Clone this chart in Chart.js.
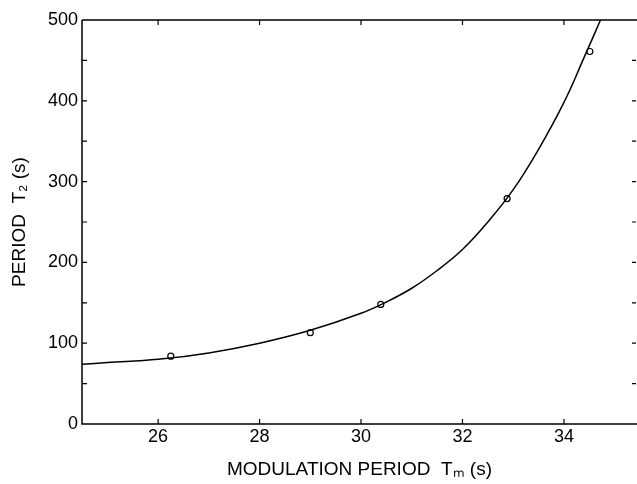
<!DOCTYPE html>
<html>
<head>
<meta charset="utf-8">
<script src="https://cdn.jsdelivr.net/npm/chart.js@4/dist/chart.umd.min.js"></script>
<style>
  html, body { margin: 0; padding: 0; background: #fff; overflow: hidden; }
  canvas { display: block; }
</style>
</head>
<body>
<canvas id="chart" width="637" height="484"></canvas>
<script>
// measured points (open circles)
const measX = [26.25, 29.0, 30.39, 32.88, 34.51];
const measY = [84, 113, 148, 279, 461];

// fitted curve
const fitX = [24.5, 25, 26, 27, 28, 29, 30, 30.5, 31, 31.5, 32, 32.5, 33, 33.5, 34, 34.4, 34.72];
const fitY = [74, 76, 80, 88, 100, 116, 137, 151, 168, 190, 216, 250, 290, 340, 398, 454, 500];

const xTicks = [26, 28, 30, 32, 34];
const yTicks = [0, 100, 200, 300, 400, 500];

const FONT = "'Liberation Sans', Arial, Helvetica, sans-serif";

// frame with inward ticks, drawn from the scales
const framePlugin = {
  id: 'frame',
  afterDraw(chart) {
    const ctx = chart.ctx;
    const a = chart.chartArea;
    const xs = chart.scales.x;
    const ys = chart.scales.y;
    ctx.save();
    ctx.strokeStyle = '#000';
    ctx.lineWidth = 1.5;
    ctx.beginPath();
    ctx.moveTo(a.left, a.top);
    ctx.lineTo(a.left, a.bottom);
    ctx.lineTo(a.right, a.bottom);
    ctx.moveTo(a.left, a.top);
    ctx.lineTo(a.right, a.top);
    ctx.stroke();

    ctx.lineWidth = 1.2;
    ctx.beginPath();
    xTicks.forEach(function (v) {
      const px = xs.getPixelForValue(v);
      ctx.moveTo(px, a.bottom);
      ctx.lineTo(px, a.bottom - 5);
      ctx.moveTo(px, a.top);
      ctx.lineTo(px, a.top + 5);
    });
    for (let v = 50; v < 500; v += 50) {
      const py = ys.getPixelForValue(v);
      ctx.moveTo(a.left, py);
      ctx.lineTo(a.left + 5, py);
      ctx.moveTo(a.right - 1, py);
      ctx.lineTo(a.right - 5, py);
    }
    ctx.stroke();
    ctx.restore();
  }
};

new Chart(document.getElementById('chart'), {
  type: 'scatter',
  data: {
    datasets: [
      {
        label: 'fit',
        data: fitX.map(function (x, i) { return { x: x, y: fitY[i] }; }),
        showLine: true,
        borderColor: '#000',
        borderWidth: 1.5,
        pointRadius: 0,
        tension: 0.4,
        clip: false
      },
      {
        label: 'measured',
        data: measX.map(function (x, i) { return { x: x, y: measY[i] }; }),
        pointStyle: 'circle',
        pointRadius: 3,
        pointBackgroundColor: '#fff',
        pointBorderColor: '#000',
        pointBorderWidth: 1.2
      }
    ]
  },
  options: {
    responsive: false,
    animation: false,
    events: [],
    layout: { autoPadding: false, padding: { top: 20, right: 0, left: 0, bottom: 0 } },
    plugins: {
      legend: { display: false },
      tooltip: { enabled: false }
    },
    scales: {
      x: {
        type: 'linear',
        min: 24.5,
        max: 35.44,
        afterBuildTicks: function (scale) {
          scale.ticks = xTicks.map(function (v) { return { value: v }; });
        },
        afterFit: function (scale) {
          scale.height = 60;
          scale.paddingLeft = 0;
          scale.paddingRight = 0;
        },
        grid: { display: false, drawTicks: false },
        border: { display: false },
        ticks: { color: '#000', padding: 2, font: { family: FONT, size: 18 } },
        title: {
          display: true,
          text: 'MODULATION PERIOD  Tₘ (s)',
          color: '#000',
          padding: { top: 0, bottom: 3 },
          font: { family: FONT, size: 19 }
        }
      },
      y: {
        min: 0,
        max: 500,
        afterBuildTicks: function (scale) {
          scale.ticks = yTicks.map(function (v) { return { value: v }; });
        },
        afterFit: function (scale) { scale.width = 82; },
        grid: { display: false, drawTicks: false },
        border: { display: false },
        ticks: { color: '#000', padding: 4, font: { family: FONT, size: 18 } },
        title: {
          display: true,
          text: 'PERIOD  T₂ (s)',
          color: '#000',
          padding: { top: 8, bottom: 0 },
          font: { family: FONT, size: 19 }
        }
      }
    }
  },
  plugins: [framePlugin]
});
</script>
</body>
</html>
